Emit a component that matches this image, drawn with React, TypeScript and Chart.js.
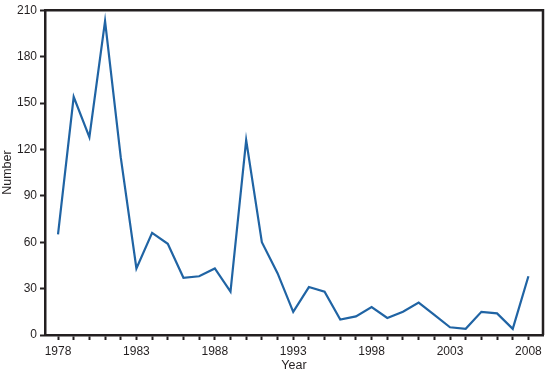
import React, { useEffect, useRef } from "react";
import { Chart, registerables } from "chart.js";
Chart.register(...registerables);

const years: number[] = [1978,1979,1980,1981,1982,1983,1984,1985,1986,1987,1988,1989,1990,1991,1992,1993,1994,1995,1996,1997,1998,1999,2000,2001,2002,2003,2004,2005,2006,2007,2008];
const counts: number[] = [65,154,128,203,115,43,66,59,37,38,43,28,126,60,40,15,31,28,10,12,18,11,15,21,13,5,4,15,14,4,38];
const yTicks: number[] = [0,30,60,90,120,150,180,210];
const xLabelYears: number[] = [1978,1983,1988,1993,1998,2003,2008];

const INK = "#231f20";
const LINE = "#2064a4";

const framePlugin = {
  id: "frame",
  afterDraw(chart: any) {
    const { ctx, chartArea } = chart;
    ctx.save();
    ctx.strokeStyle = INK;
    ctx.lineWidth = 2.5;
    ctx.beginPath();
    ctx.moveTo(chartArea.left, chartArea.top);
    ctx.lineTo(chartArea.right, chartArea.top);
    ctx.lineTo(chartArea.right, chartArea.bottom);
    ctx.stroke();
    ctx.restore();
  },
};

export default function App() {
  const ref = useRef<HTMLCanvasElement>(null);
  useEffect(() => {
    document.body.style.margin = "0";
    const chart = new Chart(ref.current!, {
      type: "line",
      data: {
        datasets: [
          {
            data: years.map((y, i) => ({ x: y, y: counts[i] })),
            borderColor: LINE,
            borderWidth: 2.2,
            pointRadius: 0,
            tension: 0,
            fill: false,
          },
        ],
      },
      options: {
        animation: false,
        responsive: false,
        maintainAspectRatio: false,
        layout: { padding: { top: 7, right: 9, left: 0, bottom: 0 } },
        plugins: { legend: { display: false }, tooltip: { enabled: false } },
        scales: {
          x: {
            type: "linear",
            min: 1977.17,
            max: 2008.93,
            afterBuildTicks: (axis: any) => {
              axis.ticks = years.map((v) => ({ value: v }));
            },
            afterFit: (axis: any) => {
              axis.height = 38;
            },
            grid: {
              drawOnChartArea: false,
              drawTicks: true,
              tickLength: 5,
              tickWidth: 2,
              color: INK,
            },
            border: { display: true, color: INK, width: 2.5 },
            ticks: {
              autoSkip: false,
              maxRotation: 0,
              padding: 4,
              color: INK,
              font: { family: "Liberation Sans", size: 12 },
              callback: (v: any) => (xLabelYears.includes(Number(v)) ? String(v) : ""),
            },
            title: {
              display: true,
              text: "Year",
              color: INK,
              font: { family: "Liberation Sans", size: 12.5 },
              padding: { top: -4, bottom: 0 },
            },
          },
          y: {
            min: 0,
            max: 210,
            afterBuildTicks: (axis: any) => {
              axis.ticks = yTicks.map((v) => ({ value: v }));
            },
            afterFit: (axis: any) => {
              axis.width = 45;
            },
            grid: {
              drawOnChartArea: false,
              drawTicks: true,
              tickLength: 5,
              tickWidth: 2,
              color: INK,
            },
            border: { display: true, color: INK, width: 2.5 },
            ticks: {
              padding: 3,
              color: INK,
              font: { family: "Liberation Sans", size: 12 },
            },
            title: {
              display: true,
              text: "Number",
              color: INK,
              font: { family: "Liberation Sans", size: 12.5 },
              padding: { top: 0, bottom: 0 },
            },
          },
        },
      },
      plugins: [framePlugin],
    } as any);
    return () => chart.destroy();
  }, []);
  return (
    <div style={{ position: "absolute", left: 0, top: 0, width: 552, height: 373 }}>
      <canvas ref={ref} width={552} height={373} style={{ width: 552, height: 373 }} />
    </div>
  );
}
